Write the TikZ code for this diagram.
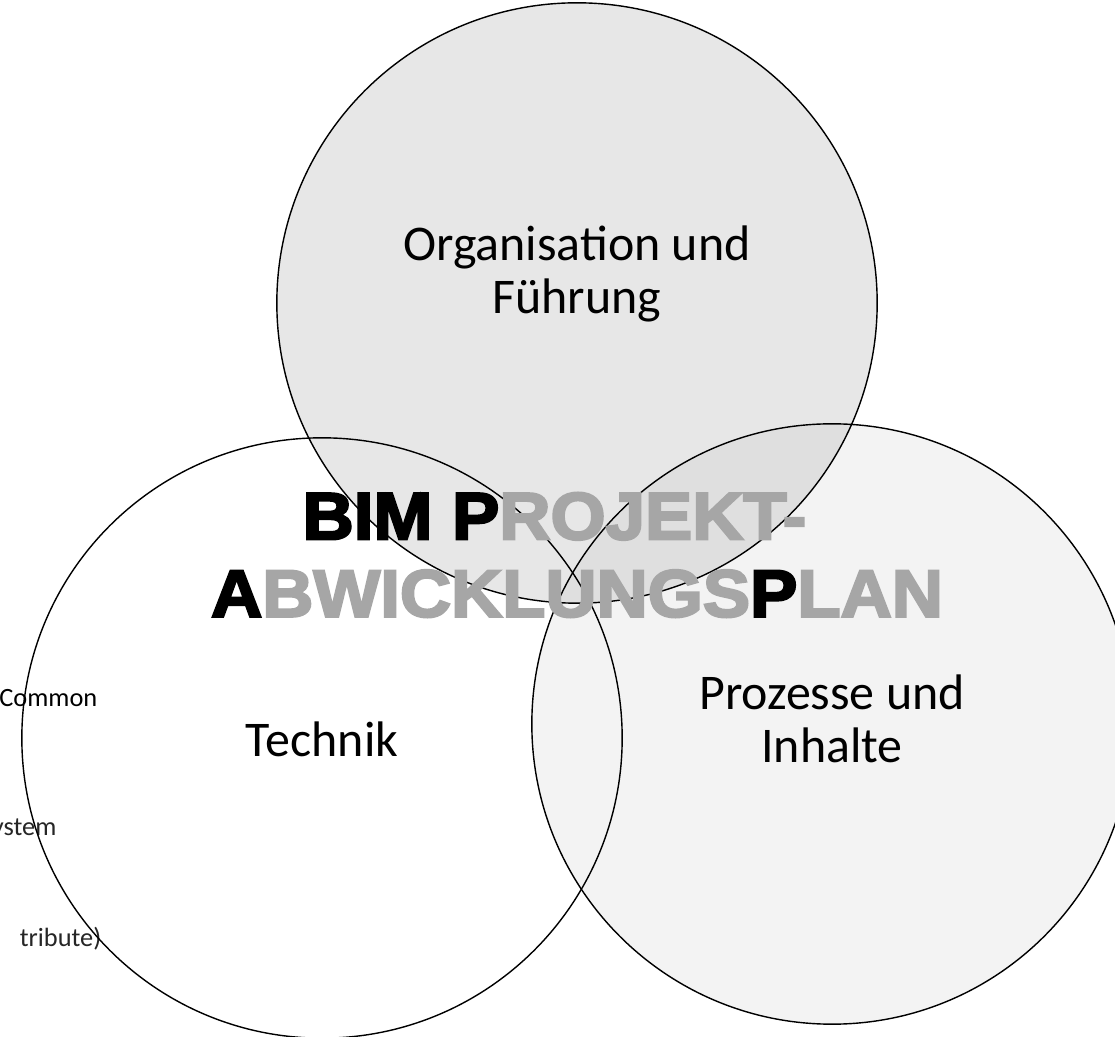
\documentclass[tikz,border=0pt]{standalone}
\usepackage{fontspec}
\setmainfont{Carlito}
\newfontfamily\planfont{Liberation Sans}[BoldFeatures={FakeStretch=1.06,FakeBold=3.5}]
\usepackage{xcolor}
\usetikzlibrary{positioning}
\definecolor{orgagray}{HTML}{E7E7E7}
\definecolor{prozgray}{HTML}{BDBDBD}
\definecolor{titlegray}{HTML}{A6A6A6}
\definecolor{sideink}{HTML}{262626}

\tikzset{
  ring/.style={draw=black, line width=0.4pt},
  fieldtext/.style={font=\fontsize{14.2}{15.2}\selectfont, align=center, text=black},
  sidetext/.style={font=\fontsize{7.5}{9}\selectfont, anchor=base east, inner sep=0pt},
  plantitle/.style={font=\planfont\bfseries\fontsize{19}{22}\selectfont, align=center, text=titlegray}
}

\begin{document}
\begin{tikzpicture}[x=0.01cm, y=-0.01cm]
  % Page frame
  \useasboundingbox (0,0) rectangle (1115,1037);
  \fill[white] (0,0) rectangle (1115,1037);

  % Circle centres
  \coordinate (tech) at (322,738);
  \coordinate (orga) at (577,303);
  \coordinate (proz) at (832,724);

  % Circle fills
  \fill[white] (tech) circle[radius=3cm];
  \fill[orgagray] (orga) circle[radius=3cm];
  \fill[prozgray, opacity=0.17] (proz) circle[radius=3cm];

  % Cut-off text from the left
  \node[sidetext, text=black] (common) at (98,707) {Common};
  \node[sidetext, text=sideink] (system) at (57,835) {ystem};
  \node[sidetext, text=sideink] (attribut) at (102,946) {tribute)};

  % Circle outlines
  \draw[ring] (tech) circle[radius=3cm];
  \draw[ring] (orga) circle[radius=3cm];
  \draw[ring] (proz) circle[radius=3cm];

  % Field labels
  \node[fieldtext] (orgalabel) at (577,274) {Organisation und\\Führung};
  \node[fieldtext] (techlabel) at (322,739) {Technik};
  \node[fieldtext] (prozlabel) at (832,719) {Prozesse und\\Inhalte};

  % Title
  \node[plantitle] (title) at (577,555)
    {\textcolor{black}{BIM P}ROJEKT-\rule{0.45cm}{0pt}\\\textcolor{black}{A}BWICKLUNGS\textcolor{black}{P}LAN};
\end{tikzpicture}
\end{document}
